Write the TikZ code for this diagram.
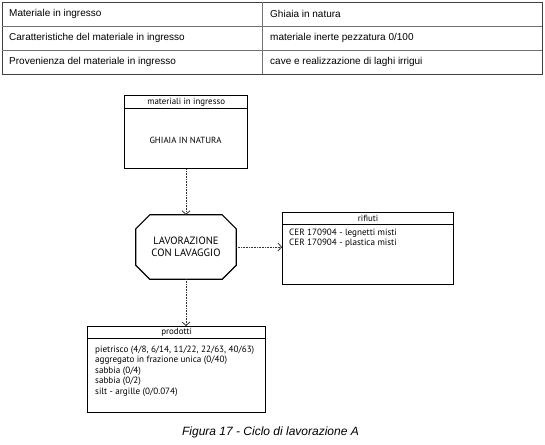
\documentclass[tikz,border=0pt]{standalone}
\usepackage{fontspec}
\setmainfont{Liberation Sans}
\newfontfamily\dfont{PT Sans}
\usetikzlibrary{arrows.meta,calc}
\begin{document}
\begin{tikzpicture}[x=1pt,y=-1pt,
  cell/.style={anchor=west,inner sep=0pt,font=\fontsize{10}{12}\selectfont},
  box/.style={draw,line width=1.3pt,anchor=north west,inner sep=0pt},
  hdr/.style={inner sep=0pt,font=\dfont\fontsize{8.9}{10}\selectfont},
  item/.style={anchor=west,inner sep=0pt,font=\dfont\fontsize{9.1}{10}\selectfont},
  big/.style={inner sep=0pt,align=center,font=\dfont\fontsize{10.6}{12.5}\selectfont},
  conn/.style={densely dotted,line width=0.6pt,black!80,-{Straight Barb[length=3.5pt,width=8pt,line width=0.8pt]}}]
\useasboundingbox (0,0) rectangle (545,444);
% table
\draw[line width=0.6pt,black!75] (2,2) rectangle (542,74);
\draw[line width=0.5pt,black!55] (2,26) -- (542,26) (2,50) -- (542,50) (262,2) -- (262,74);
\node[cell] (t11) at (9,14) {Materiale in ingresso};
\node[cell] (t12) at (270,14) {Ghiaia in natura};
\node[cell] (t21) at (9,38) {Caratteristiche del materiale in ingresso};
\node[cell] (t22) at (270,38) {materiale inerte pezzatura 0/100};
\node[cell] (t31) at (9,62) {Provenienza del materiale in ingresso};
\node[cell] (t32) at (270,62) {cave e realizzazione di laghi irrigui};
% input box
\node[box,minimum width=123pt,minimum height=73pt] (in) at (124,95) {};
\draw[line width=0.5pt] ($(in.north west)+(0,13)$) -- ($(in.north east)+(0,13)$);
\node[hdr] (inh) at ($(in.north)+(0,6.8)$) {materiali in ingresso};
\node[hdr] (inb) at (185.5,140) {GHIAIA IN NATURA};
% process octagon
\node[big,minimum width=100pt,minimum height=64pt] (lav) at (186,247) {LAVORAZIONE\\CON LAVAGGIO};
\draw[line width=1.2pt] ($(lav.north west)+(14,0)$) -- ($(lav.north east)+(-14,0)$) -- ($(lav.north east)+(0,14)$) -- ($(lav.south east)+(0,-14)$) -- ($(lav.south east)+(-14,0)$) -- ($(lav.south west)+(14,0)$) -- ($(lav.south west)+(0,-14)$) -- ($(lav.north west)+(0,14)$) -- cycle;
% rifiuti
\node[box,minimum width=171pt,minimum height=72pt] (rif) at (282,212) {};
\draw[line width=0.5pt] ($(rif.north west)+(0,12)$) -- ($(rif.north east)+(0,12)$);
\node[hdr] (rifh) at ($(rif.north)+(0,6.2)$) {rifiuti};
\node[item] (r1) at (289,233) {CER 170904 - legnetti misti};
\node[item] (r2) at (289,243.5) {CER 170904 - plastica misti};
% prodotti
\node[box,minimum width=178pt,minimum height=86pt] (prod) at (87,326) {};
\draw[line width=0.5pt] ($(prod.north west)+(0,12)$) -- ($(prod.north east)+(0,12)$);
\node[hdr] (prodh) at ($(prod.north)+(0,6.2)$) {prodotti};
\node[item] (p1) at (95,350) {pietrisco (4/8, 6/14, 11/22, 22/63, 40/63)};
\node[item] (p2) at (95,360.5) {aggregato in frazione unica (0/40)};
\node[item] (p3) at (95,371) {sabbia (0/4)};
\node[item] (p4) at (95,381.5) {sabbia (0/2)};
\node[item] (p5) at (95,392) {silt - argille (0/0.074)};
% connectors
\draw[conn] (in.south -| lav.north) -- (lav.north);
\draw[conn] (lav.east) -- (lav.east -| rif.west);
\draw[conn] (lav.south) -- (lav.south |- prod.north);
% caption
\node[inner sep=0pt,font=\itshape\fontsize{12}{14}\selectfont] (cap) at (270.5,432) {Figura 17 - Ciclo di lavorazione A};
\end{tikzpicture}
\end{document}
